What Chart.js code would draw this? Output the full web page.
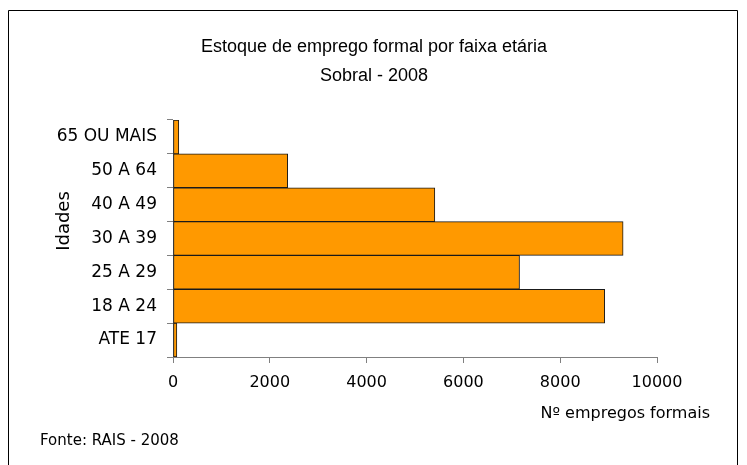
<!DOCTYPE html>
<html>
<head>
<meta charset="utf-8">
<script src="https://cdn.jsdelivr.net/npm/chart.js@4/dist/chart.umd.min.js"></script>
<style>
  html, body { margin: 0; padding: 0; background: #ffffff; }
  #wrap { position: relative; width: 747px; height: 465px; }
  canvas { display: block; }
</style>
</head>
<body>
<div id="wrap"><canvas id="c" width="747" height="465"></canvas></div>
<script>
// ---- data ----
const categories = ['ATE 17', '18 A 24', '25 A 29', '30 A 39', '40 A 49', '50 A 64', '65 OU MAIS'];
const empregos = [80, 8920, 7160, 9300, 5410, 2370, 120];
const xTicks = [0, 2000, 4000, 6000, 8000, 10000];
const titleLines = ['Estoque de emprego formal por faixa etária', 'Sobral - 2008'];
const yTitle = 'Idades';
const xTitle = 'Nº empregos formais';
const sourceNote = 'Fonte: RAIS - 2008';

const textPlugin = {
  id: 'texts',
  beforeDraw(chart) {
    const ctx = chart.ctx;
    ctx.save();
    ctx.fillStyle = '#ffffff';
    ctx.fillRect(0, 0, chart.width, chart.height);
    // outer frame
    ctx.strokeStyle = '#000000';
    ctx.lineWidth = 1;
    ctx.beginPath();
    ctx.moveTo(8.5, 470);
    ctx.lineTo(8.5, 10.5);
    ctx.lineTo(737.5, 10.5);
    ctx.lineTo(737.5, 470);
    ctx.stroke();
    ctx.restore();
  },
  afterDraw(chart) {
    const ctx = chart.ctx;
    ctx.save();
    ctx.fillStyle = '#000000';
    ctx.textBaseline = 'middle';
    // title
    ctx.textAlign = 'center';
    ctx.font = '18px "Liberation Sans", Arial, sans-serif';
    ctx.fillText(titleLines[0], 374, 47);
    ctx.fillText(titleLines[1], 374, 76);
    // y title
    ctx.save();
    ctx.translate(64, 221);
    ctx.rotate(-Math.PI / 2);
    ctx.font = '18px "DejaVu Sans", sans-serif';
    ctx.fillText(yTitle, 0, 0);
    ctx.restore();
    // x title
    ctx.textAlign = 'right';
    ctx.font = '16px "DejaVu Sans", sans-serif';
    ctx.fillText(xTitle, 710, 414);
    // source
    ctx.textAlign = 'left';
    ctx.font = '15px "DejaVu Sans", sans-serif';
    ctx.fillText(sourceNote, 40, 441);
    ctx.restore();
  }
};

new Chart(document.getElementById('c'), {
  type: 'bar',
  data: {
    labels: categories,
    datasets: [{
      data: empregos,
      backgroundColor: '#FF9900',
      borderColor: '#1a1a1a',
      borderWidth: 1,
      borderSkipped: false,
      barPercentage: 1,
      categoryPercentage: 1
    }]
  },
  options: {
    indexAxis: 'y',
    responsive: false,
    animation: false,
    devicePixelRatio: 1,
    layout: { padding: { left: 0, right: 90, top: 120, bottom: 0 } },
    plugins: {
      legend: { display: false },
      tooltip: { enabled: false },
      title: { display: false }
    },
    scales: {
      x: {
        type: 'linear',
        min: 0,
        max: 10000,
        afterBuildTicks(scale) { scale.ticks = xTicks.map(v => ({ value: v })); },
        afterFit(scale) { scale.height = 108; },
        grid: { drawOnChartArea: false, drawTicks: true, tickLength: 6, color: '#808080' },
        border: { color: '#808080', width: 1 },
        ticks: {
          padding: 10,
          color: '#000000',
          font: { family: '"DejaVu Sans", sans-serif', size: 16 },
          maxRotation: 0,
          callback: (v) => String(v)
        }
      },
      y: {
        type: 'category',
        reverse: true,
        offset: true,
        afterFit(scale) { scale.width = 173; },
        grid: { offset: true, drawOnChartArea: false, drawTicks: true, tickLength: 6, color: '#808080' },
        border: { color: '#808080', width: 1 },
        ticks: {
          padding: 10,
          color: '#000000',
          font: { family: '"DejaVu Sans", sans-serif', size: 17 }
        }
      }
    }
  },
  plugins: [textPlugin]
});
</script>
</body>
</html>
